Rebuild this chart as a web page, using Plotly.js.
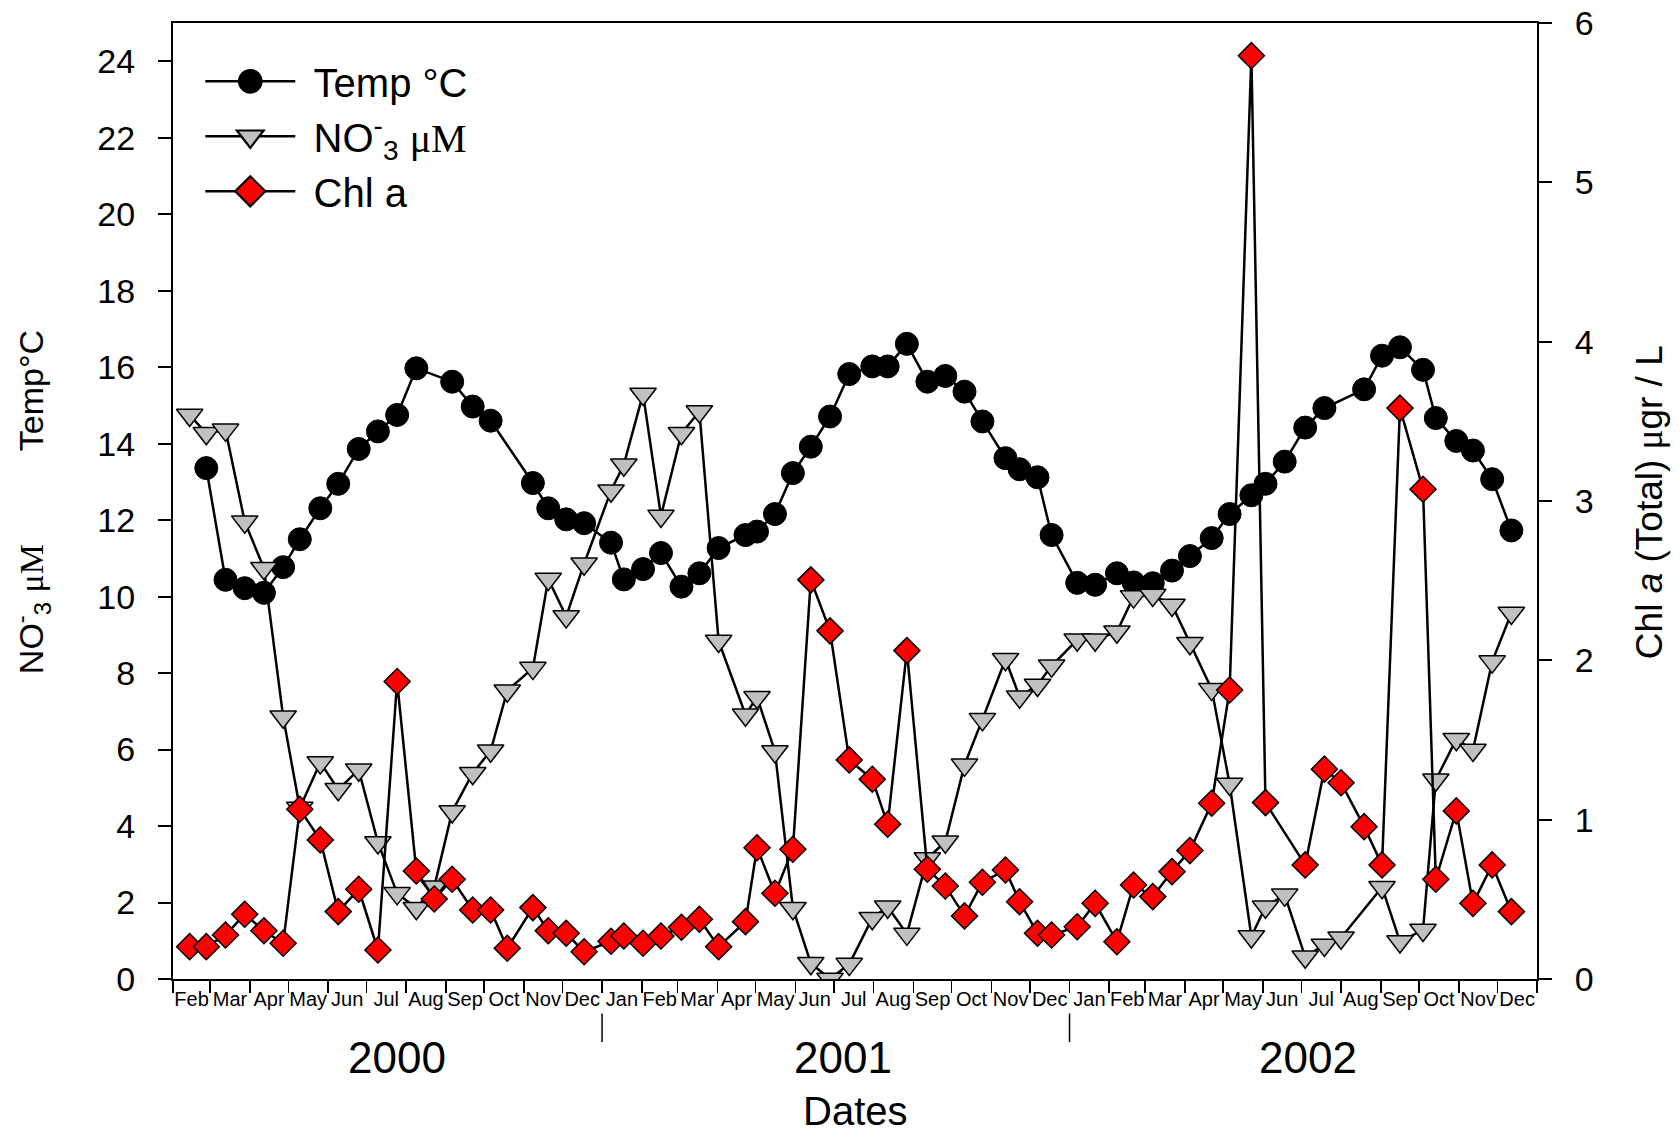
<!DOCTYPE html>
<html>
<head>
<meta charset="utf-8">
<script src="https://cdn.plot.ly/plotly-3.0.1.min.js"></script>
<style>
  html, body { margin: 0; padding: 0; background: #ffffff; }
  #chart { width: 1680px; height: 1136px; }
</style>
</head>
<body>
<div id="chart"></div>
<script>
// ---------- DATA ----------
const tempDates = ['2000-02-27','2000-03-13','2000-03-28','2000-04-12','2000-04-27','2000-05-10','2000-05-26','2000-06-09','2000-06-25','2000-07-10','2000-07-25','2000-08-09','2000-09-06','2000-09-22','2000-10-06','2000-11-08','2000-11-20','2000-12-04','2000-12-18',
  '2001-01-08','2001-01-18','2001-02-02','2001-02-16','2001-03-04','2001-03-18','2001-04-02','2001-04-23','2001-05-02','2001-05-16','2001-05-30','2001-06-13','2001-06-28','2001-07-13','2001-07-31','2001-08-12','2001-08-27','2001-09-12','2001-09-26','2001-10-11','2001-10-25','2001-11-12','2001-11-23','2001-12-07','2001-12-18',
  '2002-01-07','2002-01-21','2002-02-07','2002-02-20','2002-03-07','2002-03-22','2002-04-05','2002-04-22','2002-05-06','2002-05-23','2002-06-03','2002-06-18','2002-07-04','2002-07-19','2002-08-19','2002-09-02','2002-09-16','2002-10-04','2002-10-14','2002-10-30','2002-11-12','2002-11-27','2002-12-12'];
const tempValues = [13.36,10.44,10.22,10.1,10.77,11.5,12.31,12.95,13.86,14.32,14.75,15.97,15.62,14.97,14.6,12.97,12.31,12.02,11.92,
  11.41,10.45,10.72,11.14,10.26,10.61,11.27,11.61,11.7,12.16,13.23,13.92,14.71,15.82,16.02,16.02,16.61,15.62,15.77,15.36,14.58,13.62,13.33,13.12,11.61,
  10.36,10.31,10.61,10.37,10.35,10.68,11.06,11.53,12.16,12.65,12.95,13.53,14.42,14.93,15.42,16.3,16.52,15.93,14.67,14.07,13.82,13.07,11.73];

const no3Dates = ['2000-02-14','2000-02-27','2000-03-13','2000-03-28','2000-04-12','2000-04-27','2000-05-10','2000-05-26','2000-06-09','2000-06-25','2000-07-10','2000-07-25','2000-08-09','2000-08-23','2000-09-06','2000-09-22','2000-10-06','2000-10-19','2000-11-08','2000-11-20','2000-12-04','2000-12-18',
  '2001-01-08','2001-01-18','2001-02-02','2001-02-16','2001-03-04','2001-03-18','2001-04-02','2001-04-23','2001-05-02','2001-05-16','2001-05-30','2001-06-13','2001-06-28','2001-07-13','2001-07-31','2001-08-12','2001-08-27','2001-09-12','2001-09-26','2001-10-11','2001-10-25','2001-11-12','2001-11-23','2001-12-07','2001-12-18',
  '2002-01-07','2002-01-21','2002-02-07','2002-02-20','2002-03-07','2002-03-22','2002-04-05','2002-04-22','2002-05-06','2002-05-23','2002-06-03','2002-06-18','2002-07-04','2002-07-19','2002-08-01','2002-09-02','2002-09-16','2002-10-04','2002-10-14','2002-10-30','2002-11-12','2002-11-27','2002-12-12'];
const no3Values = [14.75,14.27,14.36,11.96,10.74,6.86,4.47,5.66,4.96,5.47,3.57,2.24,1.85,2.41,4.38,5.38,5.97,7.54,8.13,10.46,9.48,10.86,
  12.77,13.45,15.3,12.11,14.27,14.84,8.84,6.91,7.37,5.95,1.85,0.41,0.0,0.39,1.59,1.89,1.18,3.15,3.59,5.6,6.79,8.36,7.38,7.69,8.19,
  8.87,8.87,9.08,10.0,10.04,9.78,8.78,7.58,5.1,1.11,1.89,2.2,0.58,0.89,1.08,2.4,0.98,1.28,5.21,6.27,5.99,8.3,9.57];

const chlDates = ['2000-02-14','2000-02-27','2000-03-13','2000-03-28','2000-04-12','2000-04-27','2000-05-10','2000-05-26','2000-06-09','2000-06-25','2000-07-10','2000-07-25','2000-08-09','2000-08-23','2000-09-06','2000-09-22','2000-10-06','2000-10-19','2000-11-08','2000-11-20','2000-12-04','2000-12-18',
  '2001-01-08','2001-01-18','2001-02-02','2001-02-16','2001-03-04','2001-03-18','2001-04-02','2001-04-23','2001-05-02','2001-05-16','2001-05-30','2001-06-13','2001-06-28','2001-07-13','2001-07-31','2001-08-12','2001-08-27','2001-09-12','2001-09-26','2001-10-11','2001-10-25','2001-11-12','2001-11-23','2001-12-07','2001-12-18',
  '2002-01-07','2002-01-21','2002-02-07','2002-02-20','2002-03-07','2002-03-22','2002-04-05','2002-04-22','2002-05-06','2002-05-23','2002-06-03','2002-07-04','2002-07-19','2002-08-01','2002-08-19','2002-09-02','2002-09-16','2002-10-04','2002-10-14','2002-10-30','2002-11-12','2002-11-27','2002-12-12'];
const chlValues = [0.203,0.203,0.276,0.406,0.303,0.224,1.065,0.873,0.423,0.563,0.182,1.867,0.678,0.502,0.626,0.433,0.433,0.193,0.448,0.303,0.287,0.171,
  0.237,0.27,0.224,0.27,0.325,0.375,0.203,0.36,0.824,0.538,0.814,2.505,2.185,1.375,1.254,0.971,2.061,0.689,0.584,0.396,0.607,0.684,0.485,0.287,0.276,
  0.328,0.475,0.234,0.59,0.517,0.674,0.806,1.103,1.814,5.795,1.107,0.716,1.317,1.232,0.956,0.716,3.583,3.074,0.626,1.055,0.475,0.716,0.423];

const yearLabels = ['2000','2001','2002'];
const yearLabelDates = ['2000-07-25','2001-07-08','2002-07-06'];
const yearBoundaries = ['2001-01-01','2002-01-01'];
const leftTicks = [0,2,4,6,8,10,12,14,16,18,20,22,24];
const rightTicks = [0,1,2,3,4,5,6];

// ---------- STYLE ----------
const FONT = 'Liberation Sans, Arial, Helvetica, sans-serif';
const SERIF = 'Liberation Serif';
const GAP = '\u2004';

const traces = [
  {
    name: GAP + 'Temp °C', x: tempDates, y: tempValues, xaxis: 'x', yaxis: 'y',
    type: 'scatter', mode: 'lines+markers',
    line: {color: '#000000', width: 2.5},
    marker: {symbol: 'circle', size: 23, color: '#000000', line: {color: '#000000', width: 1}}
  },
  {
    name: GAP + 'NO<sup>-</sup><sub>3</sub> <span style="font-family:' + SERIF + '">μM</span>',
    x: no3Dates, y: no3Values, xaxis: 'x', yaxis: 'y',
    type: 'scatter', mode: 'lines+markers',
    line: {color: '#000000', width: 2.5},
    marker: {symbol: 'triangle-down', size: 23, color: '#c0c0c0', line: {color: '#000000', width: 1.5}}
  },
  {
    name: GAP + 'Chl a', x: chlDates, y: chlValues, xaxis: 'x', yaxis: 'y2',
    type: 'scatter', mode: 'lines+markers',
    line: {color: '#000000', width: 2.5},
    marker: {symbol: 'diamond', size: 20, color: '#ff0000', line: {color: '#000000', width: 1.5}}
  }
];

const annotations = yearLabels.map((t, i) => ({
  text: t, x: yearLabelDates[i], xref: 'x', y: -0.082, yref: 'paper',
  showarrow: false, xanchor: 'center', yanchor: 'middle',
  font: {family: FONT, size: 44, color: '#000000'}
}));
annotations.push(
  {text: 'Dates', x: 0.5, xref: 'paper', y: -0.138, yref: 'paper', showarrow: false,
   xanchor: 'center', yanchor: 'middle', font: {family: FONT, size: 40, color: '#000000'}},
  {text: 'Temp°C', x: -0.104, xref: 'paper', y: 0.615, yref: 'paper', showarrow: false,
   textangle: -90, xanchor: 'center', yanchor: 'middle', font: {family: FONT, size: 34, color: '#000000'}},
  {text: 'NO<sup>-</sup><sub>3</sub> <span style="font-family:' + SERIF + '">μM</span>', x: -0.104, xref: 'paper', y: 0.387, yref: 'paper', showarrow: false,
   textangle: -90, xanchor: 'center', yanchor: 'middle', font: {family: FONT, size: 34, color: '#000000'}},
  {text: 'Chl <i>a</i> (Total) <span style="font-family:' + SERIF + '">μ</span>gr / L', x: 1.083, xref: 'paper', y: 0.499, yref: 'paper', showarrow: false,
   textangle: -90, xanchor: 'center', yanchor: 'middle', font: {family: FONT, size: 37, color: '#000000'}}
);

const shapes = yearBoundaries.map(d => ({
  type: 'line', xref: 'x', yref: 'paper', x0: d, x1: d, y0: -0.036, y1: -0.066,
  line: {color: '#000000', width: 1.5}
}));

const layout = {
  width: 1680, height: 1136,
  margin: {l: 173, r: 143, t: 23, b: 157},
  paper_bgcolor: '#ffffff', plot_bgcolor: '#ffffff',
  font: {family: FONT, color: '#000000'},
  showlegend: true,
  legend: {
    x: 0.02, xanchor: 'left', y: 0.973, yanchor: 'top',
    bgcolor: 'rgba(0,0,0,0)', borderwidth: 0,
    font: {family: FONT, size: 40, color: '#000000'},
    itemwidth: 90, itemsizing: 'trace'
  },
  xaxis: {
    type: 'date', range: ['2000-02-01', '2003-01-01'],
    dtick: 'M1', tick0: '2000-02-01', tickformat: '%b', ticklabelmode: 'period',
    tickangle: 0, ticklabelstandoff: -11,
    ticks: 'outside', ticklen: 12, tickwidth: 1.5, tickcolor: '#000000',
    tickfont: {family: FONT, size: 20, color: '#000000'},
    showline: true, linecolor: '#000000', linewidth: 2, mirror: true,
    showgrid: false, zeroline: false, fixedrange: true
  },
  yaxis: {
    range: [0, 25], tickvals: leftTicks, ticktext: leftTicks.map(String),
    ticks: 'outside', ticklen: 13, tickwidth: 2, tickcolor: '#000000',
    ticklabelstandoff: 16,
    tickfont: {family: FONT, size: 34, color: '#000000'},
    showline: true, linecolor: '#000000', linewidth: 2,
    showgrid: false, zeroline: false, fixedrange: true
  },
  yaxis2: {
    overlaying: 'y', side: 'right', range: [0, 6],
    tickvals: rightTicks, ticktext: rightTicks.map(String),
    ticks: 'outside', ticklen: 13, tickwidth: 2, tickcolor: '#000000',
    ticklabelstandoff: 16,
    tickfont: {family: FONT, size: 34, color: '#000000'},
    showline: true, linecolor: '#000000', linewidth: 2,
    showgrid: false, zeroline: false, fixedrange: true
  },
  annotations: annotations,
  shapes: shapes
};

Plotly.newPlot('chart', traces, layout, {staticPlot: true, displayModeBar: false}).then(gd => {
  // Plotly caps legend marker size at 16px; enlarge legend symbols to match the plotted markers.
  gd.querySelectorAll('.legend .legendpoints path.scatterpts').forEach(p => {
    const t = p.getAttribute('transform') || '';
    p.setAttribute('transform', t + ' scale(1.45)');
  });
});
</script>
</body>
</html>
